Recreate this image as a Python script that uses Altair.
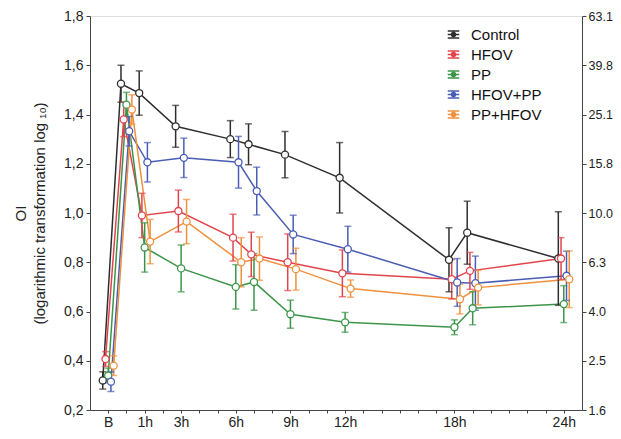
import altair as alt
import pandas as pd

groups = ["Control", "HFOV", "PP", "HFOV+PP", "PP+HFOV"]
colors = ["#2e2e2e", "#e2444c", "#3b9549", "#4a5db4", "#f0903c"]
offsets = [-0.3, -0.15, 0.0, 0.15, 0.3]
hours = [-1, 0, 1, 3, 6, 7, 9, 12, 18, 19, 24]

control = [0.32, 1.525, 1.487, 1.352, 1.30, 1.279, 1.237, 1.143, 0.81, 0.92, 0.815]
control_err = [0.035, 0.075, 0.09, 0.085, 0.075, 0.083, 0.094, 0.143, 0.13, 0.128, 0.19]
hfov = [0.407, 1.38, 0.99, 1.008, 0.90, 0.832, 0.80, 0.755, 0.731, 0.765, 0.815]
hfov_err = [0.03, 0.07, 0.09, 0.085, 0.095, 0.09, 0.115, 0.095, 0.08, 0.075, 0.085]
pp = [0.34, 1.44, 0.86, 0.775, 0.70, 0.72, 0.589, 0.556, 0.536, 0.613, 0.63]
pp_err = [0.03, 0.05, 0.10, 0.095, 0.09, 0.115, 0.057, 0.04, 0.03, 0.067, 0.075]
hfov_pp = [0.315, 1.332, 1.206, 1.224, 1.206, 1.089, 0.913, 0.853, 0.718, 0.715, 0.745]
hfov_pp_err = [0.04, 0.06, 0.08, 0.08, 0.105, 0.097, 0.078, 0.093, 0.097, 0.11, 0.10]
pp_hfov = [0.38, 1.42, 0.884, 0.965, 0.80, 0.815, 0.772, 0.693, 0.65, 0.697, 0.731]
pp_hfov_err = [0.04, 0.06, 0.09, 0.09, 0.10, 0.088, 0.085, 0.035, 0.06, 0.07, 0.115]

x_tick_values = list(range(-1, 25))
x_label_hours = [1, 3, 6, 9, 12, 18, 24]
y_tick_values = [0.2, 0.4, 0.6, 0.8, 1.0, 1.2, 1.4, 1.6, 1.8]

series = [control, hfov, pp, hfov_pp, pp_hfov]
errs = [control_err, hfov_err, pp_err, hfov_pp_err, pp_hfov_err]

rows = []
for g, off, vals, er in zip(groups, offsets, series, errs):
    for h, v, e in zip(hours, vals, er):
        rows.append({"group": g, "hour": h, "x": h + off, "mean": v,
                     "lo": v - e, "hi": v + e})
df = pd.DataFrame(rows)

FONT = "Liberation Sans"
label_list = "[" + ",".join(str(v) for v in x_label_hours) + "]"

x_enc = alt.X(
    "x:Q",
    scale=alt.Scale(domain=[-2, 25], nice=False, zero=False),
    axis=alt.Axis(
        values=x_tick_values,
        labelExpr=f"datum.value == -1 ? 'B' : (indexof({label_list}, datum.value) >= 0 ? datum.value + 'h' : '')",
        title=None, grid=False, tickSize=3, labelPadding=2,
        labelFontSize=14, labelFont=FONT, labelColor="#222",
        domainColor="#444", tickColor="#444", labelFlush=False,
    ),
)
y_scale = alt.Scale(domain=[0.2, 1.8], nice=False, zero=False)
y_axis = alt.Axis(
    values=y_tick_values,
    labelExpr="replace(format(datum.value, '.1f'), '.', ',')",
    title=["OI", "(logarithmic transformation log \u2081\u2080)"],
    titleFontSize=15, titleFontWeight="normal", titleFont=FONT, titleColor="#222",
    titlePadding=16, titleLineHeight=19,
    grid=False, tickSize=4, labelPadding=3,
    labelFontSize=14, labelFont=FONT, labelColor="#222",
    domainColor="#444", tickColor="#444",
)

legend_path = ("M-0.55,-0.33H0.55M-0.55,0.33H0.55M0,-0.33V-0.19M0,0.19V0.33"
               "M-0.55,0H-0.19M0.19,0H0.55"
               "M0.19,0A0.19,0.19,0,1,1,-0.19,0A0.19,0.19,0,1,1,0.19,0Z")

color_scale = alt.Scale(domain=groups, range=colors)
color_enc = alt.Color(
    "group:N", scale=color_scale, sort=groups,
    legend=alt.Legend(
        orient="none", legendX=352, legendY=7, title=None,
        symbolType=legend_path, symbolSize=441, symbolStrokeWidth=1.5,
        symbolFillColor="white", labelFontSize=15, labelFont=FONT,
        labelColor="#111", rowPadding=0, labelOffset=6, padding=0,
    ),
)
color_nolegend = alt.Color("group:N", scale=color_scale, legend=None)

base = alt.Chart(df)
lines = base.mark_line(strokeWidth=1.5).encode(
    x=x_enc, y=alt.Y("mean:Q", scale=y_scale, axis=y_axis), color=color_enc,
    order="hour:Q")
rules = base.mark_rule(strokeWidth=1.5).encode(
    x=x_enc, y=alt.Y("lo:Q", scale=y_scale, axis=y_axis), y2="hi:Q",
    color=color_nolegend)
caps_lo = base.mark_tick(orient="horizontal", size=7, thickness=1.5).encode(
    x=x_enc, y=alt.Y("lo:Q", scale=y_scale, axis=y_axis), color=color_nolegend)
caps_hi = base.mark_tick(orient="horizontal", size=7, thickness=1.5).encode(
    x=x_enc, y=alt.Y("hi:Q", scale=y_scale, axis=y_axis), color=color_nolegend)
points = base.mark_point(shape="circle", size=50, strokeWidth=1.3, opacity=1,
                         fill="white", fillOpacity=1).encode(
    x=x_enc, y=alt.Y("mean:Q", scale=y_scale, axis=y_axis),
    stroke=alt.Stroke("group:N", scale=color_scale, legend=None))

main = alt.layer(lines, rules, caps_lo, caps_hi, points)

right = base.mark_point(opacity=0).encode(
    y=alt.Y("mean:Q", scale=y_scale, axis=alt.Axis(
        orient="right", values=y_tick_values,
        labelExpr="format(pow(10, datum.value), '.1f')",
        title=None, grid=False, tickSize=4, labelPadding=2,
        labelFontSize=12.5, labelFont=FONT, labelColor="#222",
        domainColor="#444", tickColor="#444")))

chart = alt.layer(main, right).resolve_scale(y="independent").properties(
    width=492, height=394,
    autosize=alt.AutoSizeParams(type="none"),
    padding={"left": 82, "top": 8, "right": 31, "bottom": 21},
).configure_view(stroke=None).configure(background="white")

chart.save("out.html", embed_options={"renderer": "svg", "actions": False})
